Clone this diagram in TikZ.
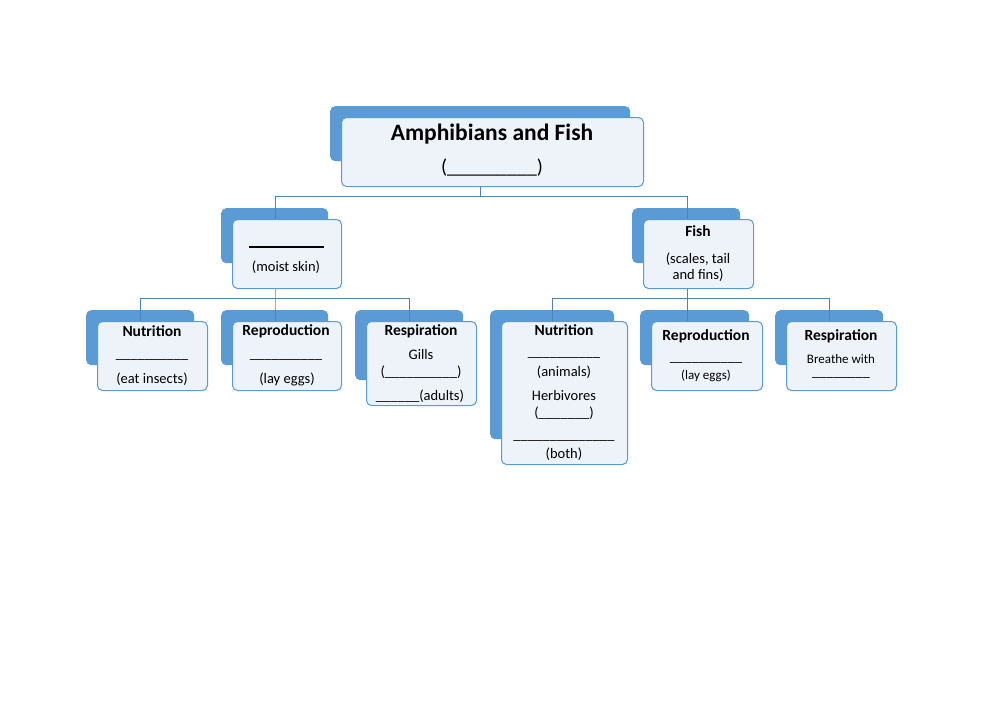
\documentclass[tikz,border=0pt]{standalone}
\usepackage{fontspec}
\setmainfont{Carlito}
\begin{document}
\begin{tikzpicture}[x=1pt,y=-1pt,
  back/.style={fill=bblue,rounded corners=5pt,draw=none,anchor=north west,inner sep=0pt},
  front/.style={fill=lblue,draw=bblue,line width=1pt,rounded corners=5pt,anchor=north west,inner sep=0pt},
  conn/.style={draw=bblue!85!black,line width=0.9pt},
  tx/.style={font=\fontsize{14.5}{16}\selectfont,inner sep=0pt,align=center},
  hd/.style={font=\fontsize{15.5}{17}\selectfont\bfseries,inner sep=0pt}]
\definecolor{bblue}{HTML}{5B9BD5}
\definecolor{lblue}{HTML}{EEF3FA}
\useasboundingbox (0,0) rectangle (1000,707);
\newcommand\cbox[5]{%
  \node[back,minimum width={#4-#2-2},minimum height={#5-#3-14}] at (#2-11,#3-11) {};
  \node[front,minimum width={#4-#2},minimum height={#5-#3}] (#1) at (#2,#3) {};}
\cbox{top}{341}{117}{643}{186}
\cbox{amph}{232}{219}{341}{288}
\cbox{fish}{643}{219}{753}{288}
\cbox{an}{97}{321}{207}{390}
\cbox{ar}{232}{321}{341}{390}
\cbox{as}{366}{321}{476}{405}
\cbox{fn}{501}{321}{627}{464}
\cbox{fr}{651}{321}{762}{390}
\cbox{fs}{786}{321}{896}{390}
% connectors
\coordinate (j1) at (480,196);
\coordinate (ja) at (275,196);
\coordinate (jf) at (687,196);
\draw[conn] (j1|-top.south) -- (j1);
\draw[conn] (ja|-amph.north) -- (ja) -- (jf) -- (jf|-fish.north);
\coordinate (j2) at (275,298);
\coordinate (j2l) at (140,298);
\coordinate (j2r) at (409,298);
\draw[conn] (j2|-amph.south) -- (j2) -- (j2|-ar.north);
\draw[conn] (j2l|-an.north) -- (j2l) -- (j2r) -- (j2r|-as.north);
\coordinate (j3) at (687,298);
\coordinate (j3l) at (552,298);
\coordinate (j3r) at (829,298);
\draw[conn] (j3|-fish.south) -- (j3) -- (j3|-fr.north);
\draw[conn] (j3l|-fn.north) -- (j3l) -- (j3r) -- (j3r|-fs.north);
% texts
\node[font=\fontsize{23.5}{26}\selectfont\bfseries,inner sep=0pt] (t1) at (492,134) {Amphibians and Fish};
\node[font=\fontsize{20}{22}\selectfont,inner sep=0pt] (t2) at (492,168) {(\_\_\_\_\_\_\_\_\_)};
\draw[line width=1.6pt] (249,247) -- (324,247);
\node[tx] (a2) at (286,267) {(moist skin)};
\node[hd] (f1) at (698,231) {Fish};
\node[tx] (f2) at (698,267) {(scales, tail\\and fins)};
\node[hd] (an1) at (152,331) {Nutrition};
\node[tx] (an2) at (152,359) {\_\_\_\_\_\_\_\_\_\_};
\node[tx] (an3) at (152,379) {(eat insects)};
\node[hd] (ar1) at (286,331) {Reproduction};
\node[tx] (ar2) at (286,359) {\_\_\_\_\_\_\_\_\_\_};
\node[tx] (ar3) at (287,379) {(lay eggs)};
\node[hd] (as1) at (421,331) {Respiration};
\node[tx] (as2) at (421,355) {Gills};
\node[tx] (as3) at (421,372) {(\_\_\_\_\_\_\_\_\_\_)};
\node[tx] (as4) at (420,396) {\_\_\_\_\_\_(adults)};
\node[hd] (fn1) at (564,330) {Nutrition};
\node[tx] (fn2) at (564,357) {\_\_\_\_\_\_\_\_\_\_};
\node[tx] (fn3) at (564,372) {(animals)};
\node[tx] (fn4) at (564,396) {Herbivores};
\node[tx] (fn5) at (564,413) {(\_\_\_\_\_\_\_)};
\node[tx] (fn6) at (564,440) {\_\_\_\_\_\_\_\_\_\_\_\_\_\_};
\node[tx] (fn7) at (564,454) {(both)};
\node[hd] (fr1) at (706,336) {Reproduction};
\node[tx] (fr2) at (706,362) {\_\_\_\_\_\_\_\_\_\_};
\node[tx,font=\fontsize{13}{15}\selectfont] (fr3) at (706,376) {(lay eggs)};
\node[hd] (fs1) at (841,336) {Respiration};
\node[tx,font=\fontsize{13}{15}\selectfont] (fs2) at (841,359) {Breathe with};
\node[tx] (fs3) at (841,377) {\_\_\_\_\_\_\_\_};
\end{tikzpicture}
\end{document}
